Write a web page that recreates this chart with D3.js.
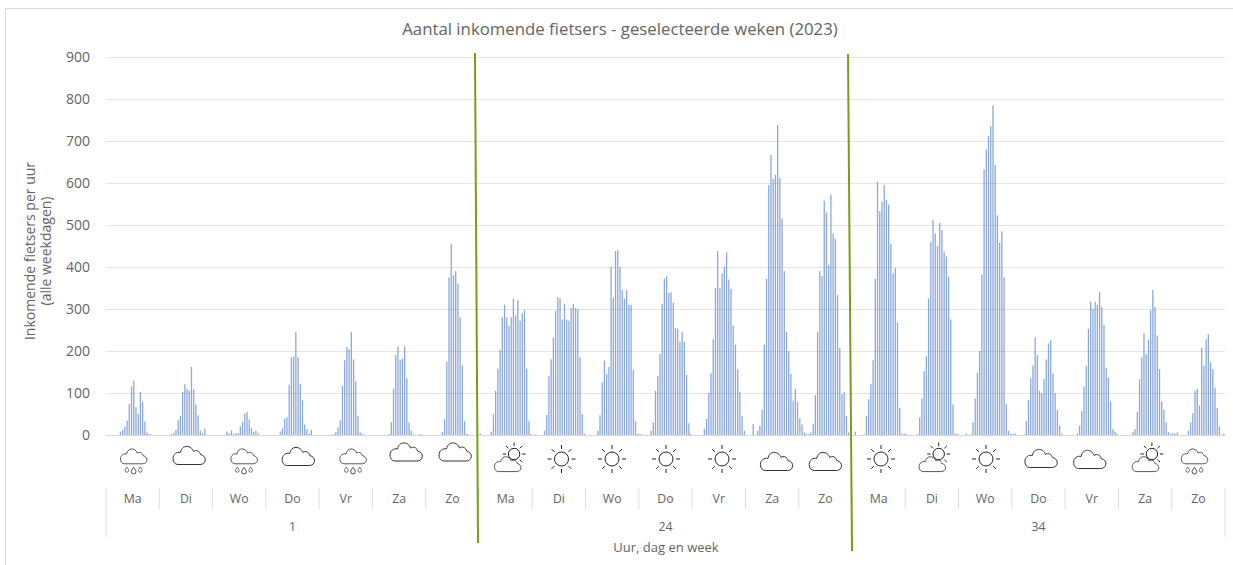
<!DOCTYPE html>
<html><head><meta charset="utf-8">
<script src="https://cdn.jsdelivr.net/npm/d3@7"></script>
<style>
html,body{margin:0;padding:0;background:#fff;overflow:hidden}
text{font-family:"Open Sans",sans-serif}
</style></head><body><svg id="c" width="1233" height="565"></svg>
<script>
const title = "Aantal inkomende fietsers - geselecteerde weken (2023)";
const yTitle = ["Inkomende fietsers per uur", "(alle weekdagen)"];
const xTitle = "Uur, dag en week";
const weeks = ["1", "24", "34"];
const days = ["Ma", "Di", "Wo", "Do", "Vr", "Za", "Zo"];
const yTicks = [0,100,200,300,400,500,600,700,800,900];

const week1 = [
 [0,0,0,0,0,0,8,12,20,34,74,115,129,66,50,102,79,32,6,2,1,0,0,0],
 [0,0,0,0,0,2,5,12,35,46,103,121,110,106,162,110,72,47,10,4,15,0,0,0],
 [0,0,0,0,0,0,8,4,11,2,4,5,21,31,51,55,37,16,8,10,5,0,0,0],
 [0,0,0,0,0,0,8,16,39,42,120,185,187,245,185,122,83,25,14,3,12,0,0,0],
 [0,0,0,0,0,1,2,7,18,35,117,178,210,205,245,180,128,46,6,3,1,0,0,0],
 [0,0,0,0,0,0,0,2,31,110,190,211,179,182,211,135,30,10,1,0,0,2,1,0],
 [0,0,0,0,0,0,0,7,37,175,375,455,380,390,360,280,165,33,3,1,0,0,0,0]
];
const week24 = [
 [4,0,0,0,0,8,50,105,158,203,280,310,280,260,280,325,285,322,272,290,297,158,33,2],
 [0,2,0,0,0,10,48,140,180,232,295,328,325,275,312,275,272,302,312,302,300,185,50,3],
 [0,0,0,0,0,10,47,125,177,145,162,400,327,438,440,400,345,325,345,310,310,155,33,3],
 [2,2,0,0,0,10,30,105,140,193,312,372,378,338,340,315,255,253,222,245,222,143,28,3],
 [0,0,0,0,0,15,38,100,147,228,350,438,350,385,400,435,370,348,260,215,157,102,45,10],
 [0,0,0,26,0,10,22,60,215,372,595,667,610,620,738,612,515,390,245,200,145,82,110,78],
 [40,25,6,3,2,6,27,95,245,390,378,558,530,405,572,480,467,333,208,97,102,45,6,0]
];
const week34 = [
 [0,8,0,0,0,2,45,85,122,178,372,603,533,555,595,560,548,455,385,397,268,65,3,3],
 [2,0,0,0,0,2,42,87,152,187,325,460,512,480,450,505,488,437,425,377,275,73,3,3],
 [0,0,0,3,0,2,30,87,148,200,382,632,680,712,735,785,643,523,458,485,375,73,10,3],
 [2,4,0,0,0,2,33,83,135,165,233,190,105,100,133,180,218,225,147,100,60,23,3,0],
 [0,0,0,0,0,4,22,57,115,165,253,317,300,317,310,340,305,262,160,137,80,14,8,3],
 [0,0,0,0,0,0,7,14,55,133,185,242,192,227,297,345,305,237,157,80,60,30,7,3],
 [4,3,6,0,0,0,0,10,30,52,105,110,70,208,165,228,240,173,157,113,64,20,1,3]
];
const weather = [
 "regen","wolk","regen","wolk","regen","wolk","wolk",
 "halfzon","zon","zon","zon","zon","wolk","wolk",
 "zon","halfzon","zon","wolk","wolk","halfzon","regen"
];

// layout
const L=106, R=1225, T=57, B=435;
const TEXT="#646464";
const iconPos = [[133.6,456],[189,455],[244,456],[298.2,456],[353,456],[406,451.5],[455,451.5],
 [507.6,458],[561.5,459],[612,459],[666,459],[722,459],[776.4,461],[825.2,461],
 [881,459],[932.2,458],[986,459],[1040.9,458],[1089.6,459],[1145.4,458],[1194.4,456]];

const svg = d3.select("#c");
const all = [week1, week24, week34];
const dayKeys = d3.range(21);
const hours = d3.range(24);
const xDay = d3.scaleBand().domain(dayKeys).range([L,R]);
const xHour = d3.scaleBand().domain(hours).range([0,xDay.bandwidth()]).paddingInner(0.42).paddingOuter(0.21);
const y = d3.scaleLinear().domain([0,900]).range([B,T]);
const rows = all.flat().flatMap((vals,d)=>vals.map((v,h)=>({d,h,v})));

// frame
svg.append("path").attr("d","M5.5,565V8.5H1233").attr("fill","none").attr("stroke","#d9d9d9").attr("stroke-width",1);

// title
svg.append("text").attr("x",620).attr("y",35).attr("text-anchor","middle").attr("font-size",16.8).attr("fill",TEXT).text(title);

// grid and y-axis
const gAxis = svg.append("g").attr("transform",`translate(${L},0)`)
  .call(d3.axisLeft(y).tickValues(yTicks).tickSize(-(R-L)).tickPadding(16));
gAxis.select(".domain").remove();
gAxis.selectAll(".tick line").attr("stroke","#e4e4e4");
gAxis.selectAll(".tick text").attr("font-size",14).attr("fill",TEXT).attr("font-family",'"Open Sans",sans-serif');

// bars
svg.append("g").attr("fill","#4472c4").attr("fill-opacity",.62).style("filter","blur(0.3px)")
  .selectAll("rect").data(rows.filter(r=>r.v>0)).join("rect")
  .attr("x",r=>xDay(r.d)+xHour(r.h)).attr("width",xHour.bandwidth())
  .attr("y",r=>y(r.v)).attr("height",r=>y(0)-y(r.v));

// baseline
svg.append("line").attr("x1",L).attr("x2",R).attr("y1",B+.5).attr("y2",B+.5).attr("stroke","#d9d9d9");

// category axis
const gCat = svg.append("g");
gCat.selectAll("line.d").data(d3.range(22)).join("line").attr("class","d")
  .attr("x1",i=>i==21?R:xDay(i)).attr("x2",i=>i==21?R:xDay(i))
  .attr("y1",488).attr("y2",i=>(i==0||i==21)?537:509)
  .attr("stroke","#dedede");
gCat.selectAll("text.d").data(dayKeys).join("text").attr("class","d")
  .attr("x",i=>xDay(i)+xDay.bandwidth()/2).attr("y",503).attr("text-anchor","middle")
  .attr("font-size",12.3).attr("fill",TEXT).text(i=>days[i%7]);
gCat.selectAll("text.w").data(weeks).join("text").attr("class","w")
  .attr("x",(w,i)=>xDay(i*7)+xDay.bandwidth()*3.5).attr("y",531).attr("text-anchor","middle")
  .attr("font-size",12.3).attr("fill",TEXT).text(w=>w);

// axis titles
svg.append("text").attr("x",666).attr("y",552).attr("text-anchor","middle").attr("font-size",13).attr("fill",TEXT).text(xTitle);
const yt = svg.append("text").attr("transform","translate(35,251) rotate(-90)").attr("text-anchor","middle").attr("font-size",14).attr("fill",TEXT);
yt.selectAll("tspan").data(yTitle).join("tspan").attr("x",0).attr("dy",(t,i)=>i?16:0).text(t=>t);

// weather icons
const cloudD = "M-11,9.5H11C17.5,9.5 18.5,1 11.5,-0.5C11,-4 7,-5.5 4.5,-3.5C2.5,-10 -7,-11 -8.5,-2.5C-12,-3.5 -16,-1 -16,3.5C-16,7 -14,9.5 -11,9.5Z";
const dropD = "M0,-3.5C1.5,-1 2.6,0 2.6,1.3A2.6,2.6 0 0 1 -2.6,1.3C-2.6,0 -1.5,-1 0,-3.5Z";
function sun(g,cx,cy,r,r1,r2){
  g.append("circle").attr("cx",cx).attr("cy",cy).attr("r",r).attr("fill","#fff").attr("stroke","#222").attr("stroke-width",1);
  d3.range(8).forEach(k=>{
    const a=k*Math.PI/4;
    g.append("line").attr("x1",cx+r1*Math.cos(a)).attr("y1",cy+r1*Math.sin(a))
      .attr("x2",cx+r2*Math.cos(a)).attr("y2",cy+r2*Math.sin(a)).attr("stroke","#222").attr("stroke-width",1);
  });
}
weather.forEach((w,i)=>{
  const [px,py]=iconPos[i];
  const g=svg.append("g").attr("transform",`translate(${px},${py})`);
  if(w==="wolk"){
    g.append("path").attr("d",cloudD).attr("fill","#fff").attr("stroke","#333").attr("stroke-width",1);
  } else if(w==="zon"){
    sun(g,0,0,7,10,14);
  } else if(w==="regen"){
    g.append("path").attr("d",cloudD).attr("transform","scale(.82)").attr("fill","#fff").attr("stroke","#333").attr("stroke-width",1);
    [[-6.7,.7,13.5],[0,.9,14.5],[6.7,.7,13.5]].forEach(([dx,s,dy])=>{
      g.append("path").attr("d",dropD).attr("transform",`translate(${dx},${dy}) scale(${s})`).attr("fill","#fff").attr("stroke","#333").attr("stroke-width",1);
    });
  } else {
    sun(g,6.5,-4,5.7,8,11.5);
    g.append("path").attr("d",cloudD).attr("transform","translate(0,5.8) scale(.82)").attr("fill","#fff").attr("stroke","#333").attr("stroke-width",1);
  }
});

// green week separators
const sepX = [[475,53,478,543],[848,54,852,551]];
svg.append("g").selectAll("line").data(sepX).join("line")
  .attr("x1",s=>s[0]).attr("y1",s=>s[1]).attr("x2",s=>s[2]).attr("y2",s=>s[3])
  .attr("stroke","#76a013").attr("stroke-width",2);
</script></body></html>
